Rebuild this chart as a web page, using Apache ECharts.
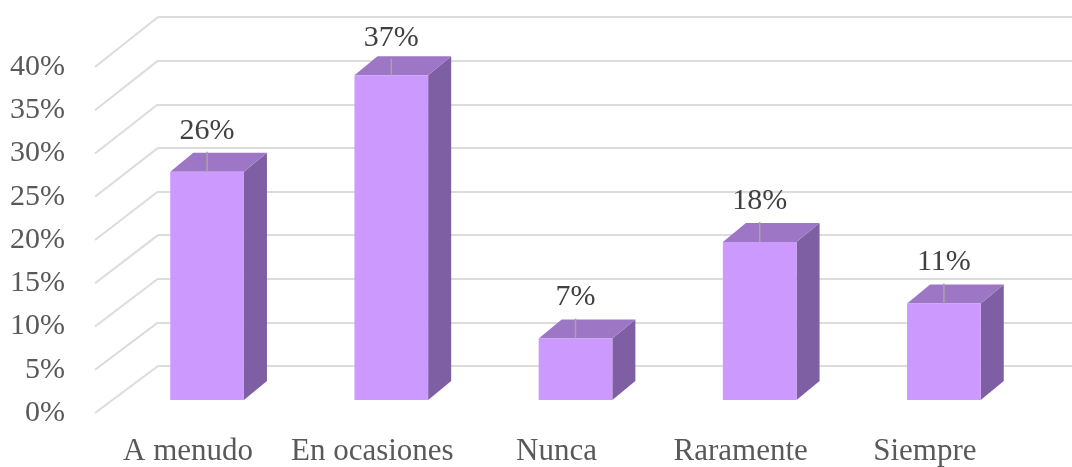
<!DOCTYPE html>
<html>
<head>
<meta charset="utf-8">
<script src="https://cdn.jsdelivr.net/npm/echarts@6/dist/echarts.min.js"></script>
<style>
  html, body { margin: 0; padding: 0; background: #ffffff; }
  #chart { width: 1072px; height: 467px; }
</style>
</head>
<body>
<div id="chart"></div>
<script>
// Survey answers and their shares (percent)
const categories = ['A menudo', 'En ocasiones', 'Nunca', 'Raramente', 'Siempre'];
const shares = [26, 37, 7, 18, 11];
// Value-axis ticks (percent)
const tickValues = [0, 5, 10, 15, 20, 25, 30, 35, 40];

const FONT = "'Liberation Serif', 'Times New Roman', serif";
const GRID_COLOR = '#dcdcdc';
const FRONT_COLOR = '#cc99ff';
const TOP_COLOR = '#9e76c6';
const SIDE_COLOR = '#7f5fa3';

const chart = echarts.init(document.getElementById('chart'), null, { renderer: 'canvas' });

const valueAxis = (gridIndex, extra) => Object.assign({
  type: 'value', gridIndex: gridIndex, min: 0, max: 40, interval: 5,
  axisLine: { show: false }, axisTick: { show: false },
  axisLabel: { show: false }, splitLine: { show: false }
}, extra);

const hiddenValueX = (gridIndex) => ({
  type: 'value', gridIndex: gridIndex, min: 0, max: 1, show: false
});

// Draws one 3D column: front face, top face, right side, leader line and value label
function renderColumn(params, api) {
  const idx = api.value(0);
  const val = api.value(1);
  const top = api.coord([idx, val]);
  const base = api.coord([idx, 0]);
  const band = api.size([1, 0])[0];
  const w = band * 0.40;
  const dx = band * 0.125;
  const dy = -19;
  const x0 = top[0] - w / 2;
  const x1 = x0 + w;
  const yt = top[1];
  const yb = base[1];
  const textY = Math.max(yt - 41, 38);
  const lineTop = textY + 21;
  return {
    type: 'group',
    children: [
      { type: 'polygon', shape: { points: [[x1, yt], [x1 + dx, yt + dy], [x1 + dx, yb + dy], [x1, yb]] },
        style: { fill: SIDE_COLOR } },
      { type: 'polygon', shape: { points: [[x0, yt], [x0 + dx, yt + dy], [x1 + dx, yt + dy], [x1, yt]] },
        style: { fill: TOP_COLOR } },
      { type: 'rect', shape: { x: x0, y: yt, width: w, height: yb - yt },
        style: { fill: FRONT_COLOR } },
      { type: 'line', shape: { x1: top[0], y1: yt, x2: top[0], y2: lineTop },
        style: { stroke: '#a6a6a6', lineWidth: 1.5 } },
      { type: 'text', style: { text: val + '%', x: top[0], y: textY, align: 'center', verticalAlign: 'middle',
        font: '30px ' + FONT, fill: '#404040' } }
    ]
  };
}

const option = {
  backgroundColor: '#ffffff',
  animation: false,
  grid: [
    // front edge of the floor (value labels)
    { left: 95, right: 900, top: 67, bottom: 54 },
    // back wall
    { left: 158, right: 0, top: 17, bottom: 101 },
    // plane of the column fronts
    { left: 115, right: 36, top: 49, bottom: 67 },
    // front edge of the floor (category labels)
    { left: 96, right: 55, top: 49, bottom: 67 }
  ],
  xAxis: [
    hiddenValueX(0),
    hiddenValueX(1),
    { type: 'category', gridIndex: 2, data: categories, show: false },
    {
      type: 'category', gridIndex: 3, data: categories,
      axisLine: { show: false }, axisTick: { show: false },
      axisLabel: { interval: 0, hideOverlap: false, margin: 36, fontSize: 31, fontFamily: FONT, color: '#595959' }
    }
  ],
  yAxis: [
    valueAxis(0, { axisLabel: { show: true, formatter: '{value}%', margin: 30, padding: [6, 0, 0, 0],
      fontSize: 30, fontFamily: FONT, color: '#595959' } }),
    valueAxis(1, { splitLine: { show: true, lineStyle: { color: GRID_COLOR, width: 2 } } }),
    valueAxis(2, { show: false }),
    valueAxis(3, { show: false })
  ],
  series: [
    {
      type: 'custom', name: 'columns', xAxisIndex: 2, yAxisIndex: 2,
      data: shares.map((v, i) => [i, v]),
      renderItem: renderColumn, z: 5
    }
  ]
};

chart.setOption(option);

// Side-wall diagonals join each tick on the floor edge to the same tick on the back wall
const diagonals = tickValues.map(v => [
  chart.convertToPixel({ gridIndex: 0 }, [0, v]),
  chart.convertToPixel({ gridIndex: 1 }, [0, v])
]);

chart.setOption({
  series: [
    option.series[0],
    {
      type: 'custom', name: 'sideWall', coordinateSystem: 'none',
      data: tickValues.map((v, i) => i), z: 1, silent: true,
      renderItem: (params, api) => {
        const seg = diagonals[api.value(0)];
        return {
          type: 'line',
          shape: { x1: seg[0][0], y1: seg[0][1], x2: seg[1][0], y2: seg[1][1] },
          style: { stroke: GRID_COLOR, lineWidth: 2 }
        };
      }
    }
  ]
});
</script>
</body>
</html>
